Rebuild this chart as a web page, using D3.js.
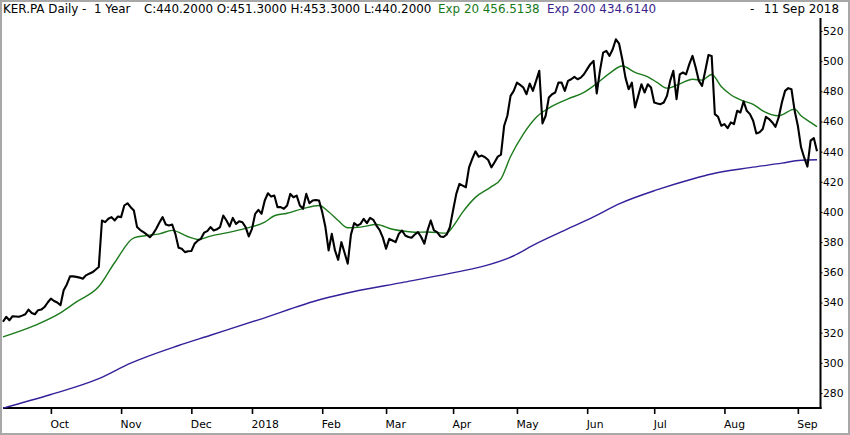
<!DOCTYPE html>
<html>
<head>
<meta charset="utf-8">
<script src="https://cdn.jsdelivr.net/npm/d3@7"></script>
<style>
  html, body { margin: 0; padding: 0; background: #fff; }
  svg { display: block; font-family: "DejaVu Sans", sans-serif; }
</style>
</head>
<body>
<div id="graph"></div>
<script>
// daily closes, 11 Sep 2017 .. 11 Sep 2018 (trading day index 0..255)
const close = [
  327.2, 330.5, 328.2, 330.9, 330.7, 330.5, 331.3, 332.2, 335.3, 333.0,
  332.2, 334.9, 335.3, 337.0, 340.0, 342.6, 341.0, 340.0, 338.2, 348.1,
  352.0, 357.3, 357.3, 357.0, 356.5, 355.8, 358.0, 359.1, 360.0, 361.7,
  363.5, 394.4, 393.3, 395.5, 396.6, 394.4, 397.0, 396.6, 404.3, 405.8,
  403.2, 401.0, 390.0, 388.0, 386.6, 385.1, 383.3, 385.5, 388.9, 393.0,
  396.6, 391.7, 391.1, 391.7, 385.5, 376.3, 375.6, 373.4, 374.0, 374.1,
  378.9, 381.0, 382.2, 386.3, 387.3, 390.0, 387.7, 388.5, 390.0, 397.7,
  394.4, 390.4, 396.1, 392.1, 393.9, 393.2, 390.0, 383.8, 388.8, 398.8,
  401.4, 398.8, 407.6, 412.4, 410.2, 410.9, 403.2, 403.2, 402.1, 404.3,
  412.0, 409.8, 410.9, 404.3, 402.1, 412.0, 405.8, 407.6, 408.0, 407.6,
  400.0, 390.0, 374.5, 385.5, 374.5, 368.3, 380.0, 373.0, 365.7, 385.0,
  392.6, 391.0, 392.1, 395.5, 392.6, 396.1, 394.8, 391.0, 388.0, 383.0,
  375.6, 382.2, 381.1, 380.0, 385.5, 387.7, 384.4, 383.4, 382.9, 385.1,
  386.7, 383.4, 379.0, 387.8, 394.4, 387.8, 386.7, 383.8, 383.4, 385.1,
  390.0, 401.2, 412.0, 418.6, 417.5, 416.4, 429.6, 435.2, 440.2, 436.7,
  437.4, 436.3, 434.5, 429.6, 433.0, 436.7, 438.0, 457.2, 463.8, 477.0,
  480.3, 485.8, 484.3, 482.5, 478.1, 485.2, 480.3, 486.9, 493.6, 458.7,
  463.8, 475.9, 478.1, 479.2, 485.8, 485.8, 480.3, 486.9, 488.0, 489.6,
  488.0, 489.1, 491.3, 494.7, 498.0, 500.2, 478.6, 493.6, 505.7, 506.8,
  503.5, 507.9, 514.5, 511.6, 501.3, 489.1, 481.4, 485.8, 469.3, 477.0,
  484.7, 479.2, 484.7, 482.5, 472.6, 472.0, 471.5, 472.6, 477.0, 486.9,
  493.6, 474.8, 491.3, 492.5, 491.3, 498.0, 503.5, 495.8, 486.9, 483.6,
  493.6, 504.1, 503.5, 464.9, 463.1, 457.2, 458.3, 455.6, 459.4, 458.3,
  467.1, 466.0, 473.3, 467.1, 464.9, 460.5, 452.1, 452.8, 455.0, 463.1,
  461.6, 459.4, 456.5, 462.7, 472.6, 480.3, 482.1, 481.4, 467.1, 457.2,
  442.9, 436.0, 430.1, 447.3, 449.0, 440.2
];

// exponential averages at some trading days
const ema20Day = [0, 10, 18, 23, 30, 35, 41, 45, 49, 53, 58, 61, 65, 70, 77, 82, 85, 89, 94, 99,
  102, 105, 108, 112, 117, 122, 126, 129, 133, 139, 141, 144, 148, 153, 156, 159, 163, 167, 171, 177,
  182, 186, 190, 194, 198, 202, 205, 208, 212, 216, 219, 222, 225, 228, 232, 235, 238, 243, 248, 250, 253, 255];
const ema20 = [317.2, 324.8, 333.1, 340.4, 350.6, 366.5, 382.9, 384.4, 385.5, 387.8, 383.6, 381.8, 384.0, 386.2, 389.6, 393.3, 397.5, 399.2, 402.2, 404.3,
  400.2, 394.4, 389.6, 390.0, 391.7, 388.6, 387.2, 386.6, 386.7, 386.0, 390.5, 399.9, 409.7, 416.8, 422.0, 436.8, 451.7, 462.7, 468.9, 475.0,
  479.3, 485.2, 491.9, 496.8, 492.5, 489.6, 485.8, 482.1, 484.9, 488.0, 487.4, 491.2, 483.2, 477.7, 473.5, 471.4, 467.1, 463.8, 468.2, 463.8, 459.4, 456.5];

const ema200Day = [0, 15, 30, 40, 55, 65, 80, 100, 110, 125, 140, 150, 160, 166, 175, 185, 193, 205, 216, 222, 234, 244, 250, 255];
const ema200 = [270.0, 279.0, 289.5, 299.8, 311.5, 318.3, 328.5, 342.3, 347.3, 353.2, 359.3, 363.8, 371.0, 377.9, 387.0, 396.8, 405.4, 414.8, 421.9, 425.2, 429.4, 432.4, 434.3, 434.6];

const monthLabels = ["Oct", "Nov", "Dec", "2018", "Feb", "Mar", "Apr", "May", "Jun", "Jul", "Aug", "Sep"];
const monthStart = [15, 37, 59, 78, 100, 120, 141, 161, 183, 204, 226, 249];
const priceTicks = [280, 300, 320, 340, 360, 380, 400, 420, 440, 460, 480, 500, 520];

const width = 850;
const height = 435;
const plotLeft = 3;
const plotRight = 817;
const axisX = 820.5;
const axisY = 408;

const xScale = d3.scaleLinear()
                 .domain([0, close.length - 1])
                 .range([plotLeft, plotRight]);

const yScale = d3.scaleLinear()
                 .domain([280, 520])
                 .range([393, 31]);

const svg = d3.create("svg")
              .attr("width", width)
              .attr("height", height)
              .attr("viewBox", `0 0 ${width} ${height}`);

svg.append("rect")
   .attr("width", width)
   .attr("height", height)
   .attr("fill", "#fff");

// outer frame
svg.append("rect")
   .attr("x", 1)
   .attr("y", 1)
   .attr("width", width - 2)
   .attr("height", height - 2)
   .attr("fill", "none")
   .attr("stroke", "#a8a8a8")
   .attr("stroke-width", 2);

// header
const header = svg.append("g")
                  .attr("font-size", 11.9)
                  .attr("fill", "#000");

header.append("text").attr("x", 3).attr("y", 13)
      .attr("xml:space", "preserve")
      .text("KER.PA Daily -  1 Year");
header.append("text").attr("x", 144).attr("y", 13)
      .text("C:440.2000 O:451.3000 H:453.3000 L:440.2000");
header.append("text").attr("x", 438).attr("y", 13)
      .attr("fill", "#187818")
      .text("Exp 20 456.5138");
header.append("text").attr("x", 547).attr("y", 13)
      .attr("fill", "#3a1f8c")
      .text("Exp 200 434.6140");
header.append("text").attr("x", 750).attr("y", 13)
      .text("-");
header.append("text").attr("x", 839).attr("y", 13)
      .attr("text-anchor", "end")
      .text("11 Sep 2018");

// x-axis (trading days, ticks on first session of each month)
const xAxis = d3.axisBottom(xScale)
                .tickValues(monthStart)
                .tickSize(6)
                .tickSizeOuter(0)
                .tickFormat((d, i) => monthLabels[i]);

const gx = svg.append("g")
              .attr("transform", `translate(0, ${axisY})`)
              .call(xAxis);
gx.select(".domain").remove();
gx.selectAll(".tick line").attr("stroke", "#000").attr("stroke-width", 1.6);
gx.selectAll(".tick text")
  .attr("text-anchor", "start")
  .attr("x", -1)
  .attr("y", 20)
  .attr("dy", 0)
  .attr("font-family", "DejaVu Sans, sans-serif")
  .attr("font-size", 10.8)
  .attr("fill", "#000");

// y-axis on the right
const yAxis = d3.axisRight(yScale)
                .tickValues(priceTicks)
                .tickSize(2)
                .tickSizeOuter(0);

const gy = svg.append("g")
              .attr("transform", `translate(${axisX}, 0)`)
              .call(yAxis);
gy.select(".domain").remove();
gy.selectAll(".tick line").attr("stroke", "#000");
gy.selectAll(".tick text")
  .attr("x", 2.5)
  .attr("font-family", "DejaVu Sans, sans-serif")
  .attr("font-size", 10.8)
  .attr("fill", "#000");

// axis lines
svg.append("line")
   .attr("x1", plotLeft).attr("x2", axisX + 1)
   .attr("y1", axisY).attr("y2", axisY)
   .attr("stroke", "#000")
   .attr("stroke-width", 2);
svg.append("line")
   .attr("x1", axisX).attr("x2", axisX)
   .attr("y1", 18).attr("y2", axisY + 1)
   .attr("stroke", "#000")
   .attr("stroke-width", 2);

// averages
const emaLine = d3.line()
                  .x(d => xScale(d[0]))
                  .y(d => yScale(d[1]))
                  .curve(d3.curveMonotoneX);

svg.append("path")
   .datum(ema200Day.map((d, i) => [d, ema200[i]]))
   .attr("d", emaLine)
   .attr("fill", "none")
   .attr("stroke", "#34209a")
   .attr("stroke-width", 1.4);

svg.append("path")
   .datum(ema20Day.map((d, i) => [d, ema20[i]]))
   .attr("d", emaLine)
   .attr("fill", "none")
   .attr("stroke", "#1c7a1c")
   .attr("stroke-width", 1.4);

// price
const priceLine = d3.line()
                    .x((d, i) => xScale(i))
                    .y(d => yScale(d));

svg.append("path")
   .datum(close)
   .attr("d", priceLine)
   .attr("fill", "none")
   .attr("stroke", "#000")
   .attr("stroke-width", 2.1)
   .attr("stroke-linejoin", "round");

document.getElementById("graph").append(svg.node());
</script>
</body>
</html>
